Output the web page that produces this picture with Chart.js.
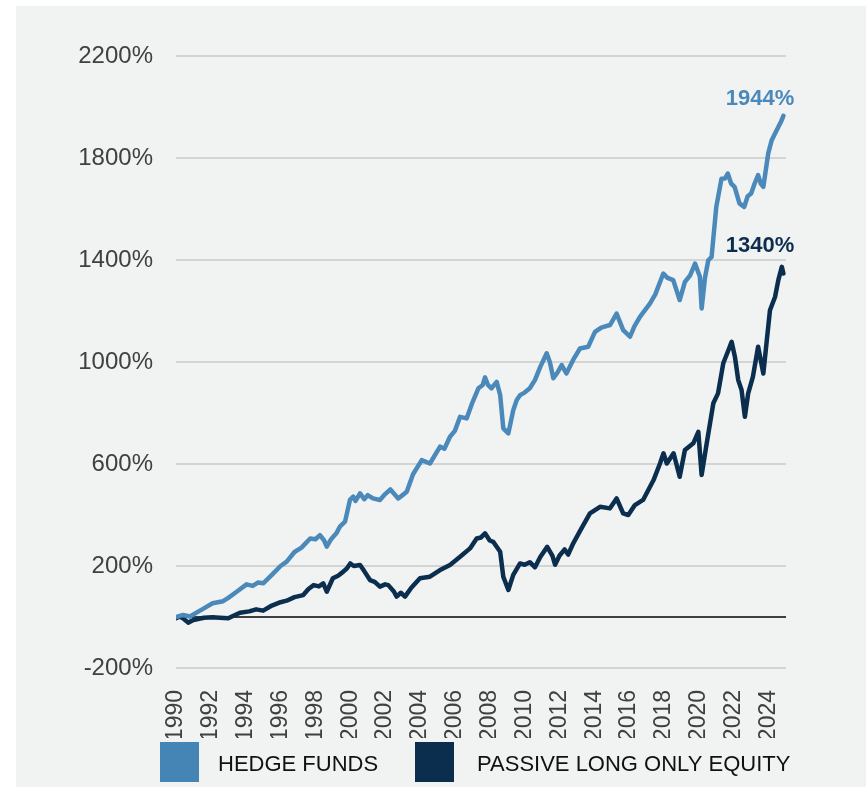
<!DOCTYPE html>
<html>
<head>
<meta charset="utf-8">
<script src="https://cdn.jsdelivr.net/npm/chart.js@4.4.1/dist/chart.umd.min.js"></script>
<style>
  html, body { margin: 0; padding: 0; background: #ffffff; }
  canvas { display: block; }
</style>
</head>
<body>
<canvas id="c" width="866" height="787"></canvas>
<script>
// ---- data ----
const seriesNames = ['HEDGE FUNDS', 'PASSIVE LONG ONLY EQUITY'];
const endLabels = ['1944%', '1340%'];
const yTicks = [-200, 200, 600, 1000, 1400, 1800, 2200];
const xTicks = [1990,1992,1994,1996,1998,2000,2002,2004,2006,2008,2010,2012,2014,2016,2018,2020,2022,2024];

const hedgeX = [1990.0,1990.4,1990.8,1991.2,1991.6,1992.1,1992.7,1993.0,1993.5,1994.05,1994.4,1994.7,1995.0,1995.5,1996.0,1996.35,1996.8,1997.2,1997.7,1998.0,1998.26,1998.5,1998.65,1998.9,1999.2,1999.4,1999.7,1999.98,2000.17,2000.3,2000.56,2000.8,2001.0,2001.3,2001.7,2002.0,2002.3,2002.75,2003.0,2003.24,2003.6,2004.1,2004.57,2005.15,2005.4,2005.72,2006.0,2006.3,2006.68,2007.0,2007.35,2007.6,2007.73,2007.9,2008.1,2008.4,2008.6,2008.78,2009.07,2009.35,2009.55,2009.74,2010.0,2010.3,2010.6,2010.9,2011.27,2011.45,2011.65,2011.9,2012.13,2012.4,2012.8,2013.18,2013.65,2014.04,2014.4,2014.9,2015.28,2015.66,2016.05,2016.3,2016.62,2017.2,2017.5,2017.96,2018.2,2018.53,2018.9,2019.2,2019.5,2019.78,2020.06,2020.16,2020.35,2020.54,2020.73,2021.0,2021.3,2021.5,2021.66,2021.85,2022.05,2022.33,2022.6,2022.8,2023.0,2023.2,2023.4,2023.55,2023.7,2023.98,2024.18,2024.4,2024.56,2024.7,2024.85];
const hedgeY = [0,8,2,18,34,54,62,75,100,128,122,135,132,165,200,217,255,272,308,305,321,300,276,305,328,354,374,459,472,455,485,462,478,465,459,482,500,465,478,491,560,615,602,668,660,707,730,785,779,840,897,910,940,910,897,922,870,740,720,811,851,870,880,897,930,981,1034,1000,936,960,988,955,1010,1053,1060,1118,1135,1145,1190,1125,1099,1140,1177,1230,1265,1347,1330,1321,1243,1314,1340,1386,1334,1210,1330,1399,1412,1608,1719,1720,1739,1700,1687,1622,1608,1650,1661,1700,1733,1700,1687,1818,1870,1900,1922,1940,1965];

const equityX = [1990.0,1990.2,1990.4,1990.7,1991.0,1991.2,1991.6,1992.1,1992.5,1993.0,1993.3,1993.67,1994.2,1994.6,1995.0,1995.5,1996.0,1996.35,1996.8,1997.3,1997.6,1997.9,1998.2,1998.45,1998.65,1999.0,1999.3,1999.6,1999.8,2000.0,2000.2,2000.56,2000.8,2001.13,2001.4,2001.7,2002.0,2002.18,2002.5,2002.66,2002.9,2003.14,2003.5,2004.0,2004.57,2005.15,2005.72,2006.3,2006.87,2007.25,2007.5,2007.73,2008.0,2008.2,2008.6,2008.78,2009.07,2009.35,2009.74,2010.0,2010.3,2010.6,2010.9,2011.3,2011.6,2011.75,2012.0,2012.3,2012.5,2012.8,2013.2,2013.75,2014.33,2014.9,2015.28,2015.66,2015.95,2016.33,2016.8,2017.4,2017.77,2017.97,2018.16,2018.55,2018.9,2019.2,2019.68,2019.97,2020.16,2020.45,2020.64,2020.83,2021.1,2021.4,2021.7,2021.88,2022.07,2022.26,2022.45,2022.64,2022.83,2023.1,2023.4,2023.7,2023.9,2024.08,2024.37,2024.56,2024.76,2024.85];
const equityY = [-5,2,-5,-22,-12,-9,-3,-1,-3,-5,5,17,22,30,25,45,58,64,78,86,110,125,120,132,99,152,162,178,190,210,200,204,180,145,138,119,128,125,100,80,95,80,115,152,158,184,204,236,269,308,312,328,300,295,256,158,106,165,210,205,215,195,235,275,240,205,240,265,245,290,340,406,432,426,465,406,400,439,459,537,602,642,602,642,550,655,681,726,557,681,759,838,877,995,1047,1079,1020,929,890,785,877,942,1060,955,1086,1203,1255,1321,1373,1347];

const colors = ['#4a89b9', '#0b2e4e'];

const toPoints = (xs, ys) => xs.map((x, i) => ({ x: x, y: ys[i] }));

const FONT = "'Liberation Sans', Arial, Helvetica, sans-serif";

const decor = {
  id: 'decor',
  beforeDraw(chart) {
    const ctx = chart.ctx;
    ctx.save();
    ctx.fillStyle = '#f1f2f2';
    ctx.fillRect(16, 6, chart.width - 16, chart.height - 6);
    ctx.restore();
  },
  beforeDatasetsDraw(chart) {
    const ctx = chart.ctx;
    const y = chart.scales.y.getPixelForValue(0);
    const a = chart.chartArea;
    ctx.save();
    ctx.strokeStyle = '#3f3f3f';
    ctx.lineWidth = 2;
    ctx.beginPath();
    ctx.moveTo(a.left, y);
    ctx.lineTo(a.right, y);
    ctx.stroke();
    ctx.restore();
  },
  afterDraw(chart) {
    const ctx = chart.ctx;
    ctx.save();
    // end labels
    ctx.font = 'bold 22px ' + FONT;
    ctx.textAlign = 'center';
    ctx.textBaseline = 'middle';
    ctx.fillStyle = colors[0];
    ctx.fillText(endLabels[0], 760, 99);
    ctx.fillStyle = colors[1];
    ctx.fillText(endLabels[1], 760, 246);
    // legend
    const boxes = [[160, 218], [415, 477]];
    ctx.font = '22px ' + FONT;
    ctx.textAlign = 'left';
    boxes.forEach((b, i) => {
      ctx.fillStyle = i === 0 ? '#4585b5' : colors[1];
      ctx.fillRect(b[0], 742, 39, 40);
      ctx.fillStyle = '#111111';
      ctx.fillText(seriesNames[i], b[1], 765);
    });
    ctx.restore();
  }
};

new Chart(document.getElementById('c'), {
  type: 'line',
  data: {
    datasets: [
      { label: seriesNames[0], data: toPoints(hedgeX, hedgeY), borderColor: colors[0], backgroundColor: colors[0], borderWidth: 4.5, pointRadius: 0, tension: 0, borderJoinStyle: 'round', borderCapStyle: 'round' },
      { label: seriesNames[1], data: toPoints(equityX, equityY), borderColor: colors[1], backgroundColor: colors[1], borderWidth: 4.5, pointRadius: 0, tension: 0, borderJoinStyle: 'round', borderCapStyle: 'round' }
    ]
  },
  options: {
    responsive: false,
    animation: false,
    devicePixelRatio: 1,
    layout: { padding: { top: 56, right: 80, bottom: 49, left: 0 } },
    plugins: { legend: { display: false }, tooltip: { enabled: false } },
    scales: {
      x: {
        type: 'linear',
        min: 1990,
        max: 2025,
        afterBuildTicks(scale) { scale.ticks = xTicks.map(v => ({ value: v })); },
        afterFit(scale) { scale.height = 70; },
        grid: { display: false },
        border: { display: false },
        ticks: {
          autoSkip: false,
          minRotation: 90,
          maxRotation: 90,
          padding: 14,
          color: '#404040',
          font: { family: FONT, size: 23 },
          callback: v => String(v)
        }
      },
      y: {
        min: -200,
        max: 2200,
        afterBuildTicks(scale) { scale.ticks = yTicks.map(v => ({ value: v })); },
        afterFit(scale) { scale.width = 176; },
        grid: { color: '#d3d4d4', lineWidth: 2, drawTicks: false },
        border: { display: false },
        ticks: {
          padding: 23,
          color: '#404040',
          font: { family: FONT, size: 24 },
          callback: v => v + '%'
        }
      }
    }
  },
  plugins: [decor]
});
</script>
</body>
</html>
